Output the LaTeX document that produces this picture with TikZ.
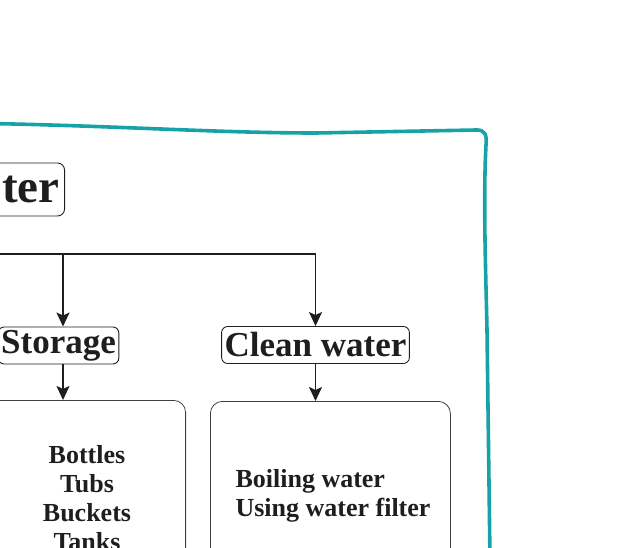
\documentclass[tikz,border=0pt]{standalone}
\usepackage{fontspec}
\setmainfont{Liberation Serif}
\usetikzlibrary{arrows.meta,positioning}
\definecolor{frameteal}{RGB}{22,163,168}
\definecolor{inkgray}{RGB}{30,30,30}

\begin{document}
\begin{tikzpicture}[x=1pt,y=-1pt,
    heading/.style={draw=inkgray, rounded corners=6pt, line width=0.9pt, inner xsep=3pt, inner ysep=2pt, minimum height=37pt, font=\fontsize{35}{37}\selectfont\bfseries, text=inkgray},
    titlebox/.style={draw=inkgray, rounded corners=7pt, line width=0.9pt, inner xsep=5pt, minimum height=53pt, font=\fontsize{47}{49}\selectfont\bfseries, text=inkgray},
    listbox/.style={draw=inkgray!85, rounded corners=12pt, line width=0.8pt},
    listtext/.style={font=\fontsize{26}{29}\selectfont\bfseries, text=inkgray},
    link/.style={-{Stealth[length=14pt,width=13pt,inset=3pt]}, line width=1.9pt, inkgray}
]
\useasboundingbox (0,0) rectangle (637,548);
\clip (0,0) rectangle (637,548);

% outer frame
\draw[frameteal, line width=3.6pt, line cap=round, line join=round]
  (-10,123.5) .. controls (120,126) and (220,133) .. (316,133)
  -- (476,130) .. controls (485,129.5) and (487,135) .. (486,145)
  .. controls (483,200) and (486,280) .. (487,330) -- (490,560);

% heading
\node[titlebox, anchor=east, text width=100pt, align=right] (title) at (65,189.5) {ter};
\coordinate (bus) at (-5,254);

% branches
\node[heading] (storage) at (58.5,345.5) {Storage};
\node[heading] (clean) at (315.5,345) {Clean water};
\coordinate (storetap) at (63,254);

% lists
\node[listbox, anchor=north east, minimum width=220pt, minimum height=200pt] (storebox) at (186,400) {};
\node[listbox, anchor=north west, minimum width=240pt, minimum height=200pt] (cleanbox) at (210,401) {};
\node[listtext, align=center, anchor=north] (storelist) at (87,442) {Bottles\\Tubs\\Buckets\\Tanks};
\node[listtext, align=left, anchor=west] (cleanlist) at (232,496) {Boiling water\\Using water filter};

% connectors
\draw[link] (bus) -| (clean);
\draw[link] (storetap) -- (storetap |- storage.north);
\draw[link] (storetap |- storage.south) -- (storetap |- storebox.north);
\draw[link] (clean) -- (clean |- cleanbox.north);
\end{tikzpicture}
\end{document}
